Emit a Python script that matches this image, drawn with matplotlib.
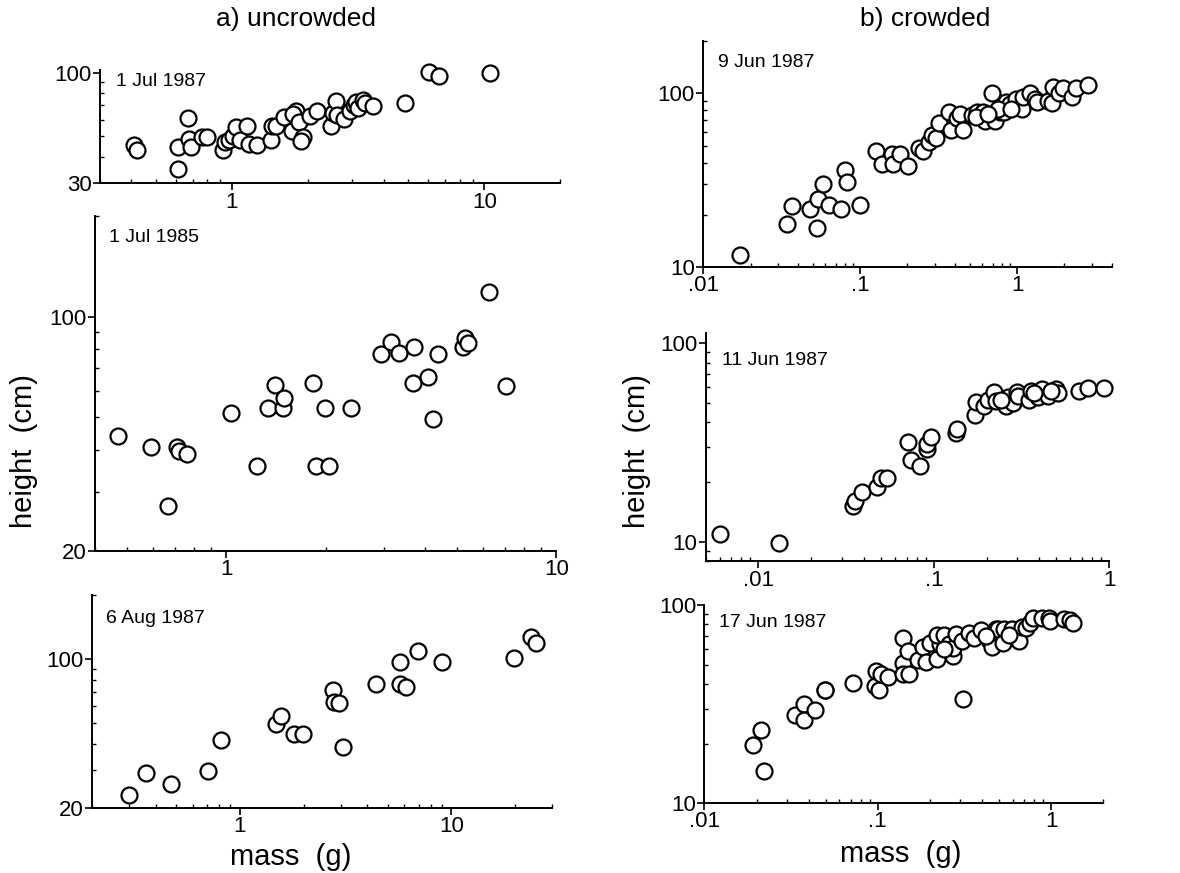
import numpy as np
import matplotlib
matplotlib.use("Agg")
import matplotlib.pyplot as plt
from matplotlib.ticker import FixedLocator, LogLocator, NullFormatter, FuncFormatter

plt.rcParams['font.family'] = ['Liberation Sans', 'DejaVu Sans']

# a) uncrowded, 1 Jul 1987
a1_mass = [0.41, 0.42, 0.61, 0.61, 0.667, 0.676, 0.69, 0.76, 0.80, 0.92, 0.94, 0.97,
           1.01, 1.04, 1.08, 1.15, 1.17, 1.26, 1.43, 1.44, 1.50, 1.61, 1.73, 1.79,
           1.74, 1.85, 1.92, 1.88, 2.04, 2.17, 2.48, 2.52, 2.58, 2.60, 2.77, 2.94,
           3.04, 3.10, 3.17, 3.31, 3.36, 3.63, 4.85, 6.05, 6.60, 10.5]
a1_height = [45.5, 43.0, 35.2, 44.4, 61.1, 48.7, 44.4, 49.9, 49.5, 42.9, 47.1, 47.9,
             50.4, 55.3, 47.9, 55.7, 45.8, 45.3, 48.2, 55.7, 56.2, 62.0, 52.9, 66.2,
             63.7, 58.5, 49.5, 47.6, 62.6, 66.2, 56.2, 64.1, 73.5, 63.2, 60.1, 65.8,
             70.3, 72.3, 68.0, 74.0, 71.6, 69.2, 72.1, 100.7, 96.1, 99.0]

# a) uncrowded, 1 Jul 1985
a2_mass = [0.47, 0.59, 0.667, 0.71, 0.72, 0.76, 1.03, 1.24, 1.34, 1.40, 1.48, 1.50,
           1.83, 1.87, 1.99, 2.05, 2.39, 2.94, 3.16, 3.33, 3.71, 3.67, 4.08, 4.22,
           4.39, 5.21, 5.30, 5.41, 6.26, 7.04]
a2_height = [44.0, 40.7, 27.3, 40.7, 39.8, 39.0, 51.6, 35.8, 53.2, 62.3, 53.2, 57.3,
             63.4, 35.8, 53.2, 35.8, 53.2, 77.5, 83.8, 77.9, 80.9, 63.4, 66.2, 49.5,
             77.5, 80.9, 86.3, 83.2, 118.5, 62.0]

# a) uncrowded, 6 Aug 1987
a3_mass = [0.30, 0.36, 0.47, 0.71, 0.81, 1.49, 1.56, 1.80, 1.99, 2.77, 2.79, 2.94,
           3.06, 4.38, 5.72, 5.72, 6.10, 6.98, 9.05, 19.7, 23.7, 25.1]
a3_height = [22.9, 29.2, 26.0, 29.8, 41.6, 49.8, 53.9, 44.7, 44.7, 71.9, 63.0, 62.3,
             38.6, 76.2, 97.1, 76.2, 73.6, 109.4, 97.1, 100.7, 127.4, 118.5]

# b) crowded, 9 Jun 1987
b1_mass = [0.0172, 0.0344, 0.0365, 0.048, 0.053, 0.054, 0.058, 0.063, 0.076, 0.080,
           0.082, 0.0995, 0.127, 0.137, 0.159, 0.163, 0.18, 0.202, 0.236, 0.252,
           0.274, 0.288, 0.303, 0.318, 0.369, 0.378, 0.417, 0.432, 0.454, 0.515,
           0.552, 0.604, 0.628, 0.693, 0.718, 0.773, 0.824, 0.853, 0.906, 0.98,
           1.08, 1.09, 1.21, 1.30, 1.33, 1.58, 1.66, 1.69, 1.84, 1.96, 2.24, 2.39,
           2.84, 0.544, 0.756, 0.92, 0.65]
b1_height = [11.8, 17.6, 22.6, 21.6, 16.8, 24.7, 30.0, 22.8, 21.6, 36.1,
             30.9, 22.8, 46.5, 39.4, 44.9, 39.4, 44.9, 38.0, 48.2, 46.5,
             52.5, 57.5, 55.1, 67.9, 77.6, 61.3, 71.9, 75.9, 61.3, 74.8,
             78.3, 77.6, 68.9, 100.0, 69.4, 77.6, 78.3, 88.7, 86.7, 92.7,
             81.1, 94.8, 100.4, 92.7, 88.7, 89.9, 87.9, 108.3, 100.0, 106.9, 94.8, 106.9,
             111.8, 72.8, 81.0, 81.0, 76.0]

# b) crowded, 11 Jun 1987
b2_mass = [0.0060, 0.0131, 0.0345, 0.0355, 0.039, 0.0476, 0.050, 0.054, 0.0716, 0.0745,
           0.0835, 0.091, 0.092, 0.096, 0.134, 0.135, 0.172, 0.173, 0.194, 0.203,
           0.22, 0.226, 0.258, 0.264, 0.282, 0.299, 0.301, 0.351, 0.356, 0.392,
           0.413, 0.448, 0.499, 0.511, 0.67, 0.759, 0.93, 0.242, 0.372, 0.467]
b2_height = [11.0, 9.93, 15.1, 16.0, 17.9, 19.0, 21.1, 21.0, 32.0, 25.9,
             24.2, 29.3, 31.0, 33.9, 35.5, 37.2, 43.5, 50.5, 48.6, 52.1,
             56.7, 51.1, 48.6, 53.5, 50.1, 56.7, 54.1, 52.1, 57.3, 53.5,
             58.9, 54.6, 58.9, 56.2, 57.3, 59.6, 59.6, 52.1, 56.2, 57.3]

# b) crowded, 17 Jun 1987
b3_mass = [0.0191, 0.0211, 0.0222, 0.0335, 0.0374, 0.0377, 0.0432, 0.0493, 0.0497, 0.0716,
           0.096, 0.0975, 0.101, 0.104, 0.115, 0.140, 0.140, 0.140, 0.149, 0.151,
           0.170, 0.182, 0.190, 0.201, 0.221, 0.229, 0.221, 0.242, 0.258, 0.270,
           0.270, 0.282, 0.311, 0.308, 0.336, 0.359, 0.392, 0.438, 0.453, 0.478,
           0.493, 0.529, 0.538, 0.596, 0.636, 0.650, 0.679, 0.719, 0.758, 0.79,
           0.885, 0.966, 0.987, 1.18, 1.28, 1.33, 0.242, 0.419, 0.57]
b3_height = [19.6, 23.5, 14.6, 27.8, 31.7, 26.4, 29.4, 37.4, 37.2, 40.5,
             38.9, 46.7, 37.4, 45.0, 43.3, 68.4, 50.7, 45.0, 58.5, 45.0,
             52.5, 61.5, 51.5, 64.5, 53.7, 63.2, 70.5, 70.5, 63.7, 55.6,
             60.8, 71.6, 33.7, 65.8, 72.4, 68.4, 74.8, 66.5, 61.5, 75.3,
             75.6, 64.0, 75.3, 75.3, 67.6, 65.8, 77.6, 76.8, 81.4, 86.3,
             86.3, 86.3, 83.0, 84.6, 84.0, 81.4, 59.7, 69.7, 70.5]


def fmt_num(v, pos=None):
    if v >= 1:
        return "%d" % round(v)
    return ("%g" % v).lstrip("0")


def setup(ax, xlim, ylim, xticks, yticks, date, dpos):
    ax.set_xscale('log')
    ax.set_yscale('log')
    ax.set_xlim(xlim)
    ax.set_ylim(ylim)
    for s in ['top', 'right']:
        ax.spines[s].set_visible(False)
    for s in ['left', 'bottom']:
        ax.spines[s].set_linewidth(1.4)
    ax.xaxis.set_major_locator(FixedLocator(xticks))
    ax.yaxis.set_major_locator(FixedLocator(yticks))
    ax.xaxis.set_minor_locator(LogLocator(base=10, subs=np.arange(2, 10)))
    ax.yaxis.set_minor_locator(LogLocator(base=10, subs=np.arange(2, 10)))
    ax.xaxis.set_major_formatter(FuncFormatter(fmt_num))
    ax.yaxis.set_major_formatter(FuncFormatter(fmt_num))
    ax.xaxis.set_minor_formatter(NullFormatter())
    ax.yaxis.set_minor_formatter(NullFormatter())
    ax.tick_params(which='major', direction='out', length=5, width=1.2,
                   labelsize=16, pad=1)
    ax.tick_params(which='minor', direction='in', length=3, width=1.0)
    ax.text(dpos[0], dpos[1], date, transform=ax.transAxes, fontsize=14,
            ha='left', va='center')


def circles(ax, x, y):
    ax.plot(x, y, 'o', ms=11.5, mfc='white', mec='black', mew=1.6,
            linestyle='none', clip_on=False)


fig = plt.figure(figsize=(11.8, 8.73), dpi=100)

ax1 = fig.add_axes([0.0847, 0.790, 0.390, 0.130])
setup(ax1, (0.3, 20), (30, 103), [1, 10], [30, 100], '1 Jul 1987', (0.035, 0.90))
circles(ax1, a1_mass, a1_height)

ax2 = fig.add_axes([0.0805, 0.369, 0.391, 0.384])
setup(ax2, (0.4, 10), (20, 200), [1, 10], [20, 100], '1 Jul 1985', (0.03, 0.935))
circles(ax2, a2_mass, a2_height)

ax3 = fig.add_axes([0.078, 0.0745, 0.390, 0.244])
setup(ax3, (0.2, 30), (20, 200), [1, 10], [20, 100], '6 Aug 1987', (0.03, 0.89))
circles(ax3, a3_mass, a3_height)

bx1 = fig.add_axes([0.596, 0.694, 0.346, 0.259])
setup(bx1, (0.01, 4), (10, 200), [0.01, 0.1, 1], [10, 100], '9 Jun 1987', (0.037, 0.905))
circles(bx1, b1_mass, b1_height)

bx2 = fig.add_axes([0.598, 0.357, 0.342, 0.261])
setup(bx2, (0.005, 1), (8, 112), [0.01, 0.1, 1], [10, 100], '11 Jun 1987', (0.04, 0.88))
circles(bx2, b2_mass, b2_height)

bx3 = fig.add_axes([0.597, 0.080, 0.338, 0.227])
setup(bx3, (0.01, 2), (10, 100), [0.01, 0.1, 1], [10, 100], '17 Jun 1987', (0.037, 0.91))
circles(bx3, b3_mass, b3_height)

fig.text(0.251, 0.978, 'a) uncrowded', fontsize=19, ha='center', va='center')
fig.text(0.784, 0.978, 'b) crowded', fontsize=19, ha='center', va='center')
fig.text(0.020, 0.483, 'height  (cm)', fontsize=21, rotation=90, ha='center', va='center')
fig.text(0.540, 0.483, 'height  (cm)', fontsize=21, rotation=90, ha='center', va='center')
fig.text(0.246, 0.018, 'mass  (g)', fontsize=21, ha='center', va='center')
fig.text(0.763, 0.022, 'mass  (g)', fontsize=21, ha='center', va='center')

fig.savefig('out.png', dpi=100)
